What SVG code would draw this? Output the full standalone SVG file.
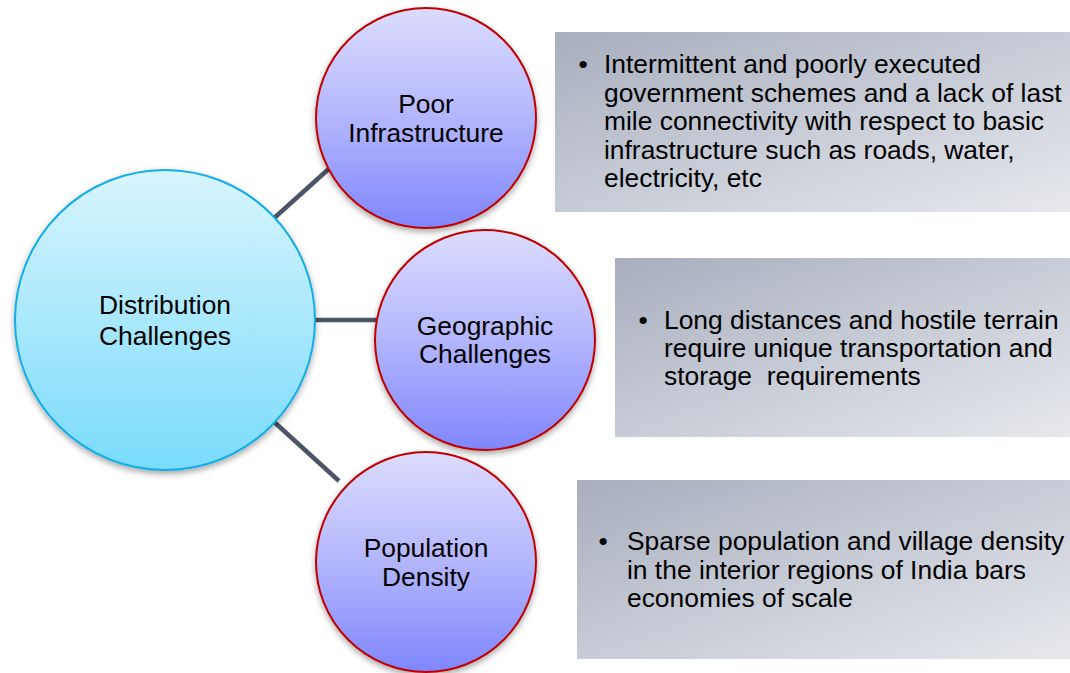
<svg xmlns="http://www.w3.org/2000/svg" width="1070" height="673" viewBox="0 0 1070 673">
<defs>
<linearGradient id="gBig" x1="0" y1="0" x2="0" y2="1">
<stop offset="0" stop-color="#d8f5fd"/>
<stop offset="1" stop-color="#7adbfb"/>
</linearGradient>
<linearGradient id="gSmall" x1="0" y1="0" x2="0" y2="1">
<stop offset="0" stop-color="#dcdcfd"/>
<stop offset="0.5" stop-color="#b3b6fc"/>
<stop offset="1" stop-color="#7f86fb"/>
</linearGradient>
<linearGradient id="gBox" x1="0" y1="0" x2="1" y2="1">
<stop offset="0" stop-color="#a8aebe"/>
<stop offset="1" stop-color="#e6e8ec"/>
</linearGradient>
<filter id="sh" x="-20%" y="-20%" width="140%" height="145%">
<feDropShadow dx="0" dy="3" stdDeviation="3" flood-color="#000" flood-opacity="0.35"/>
</filter>
</defs>
<style>
text{font-family:"Liberation Sans",Arial,sans-serif;font-size:26.4px;fill:#000}
.c{text-anchor:middle}
.big{fill:url(#gBig);stroke:#12ace6;stroke-width:2;filter:url(#sh)}
.small{fill:url(#gSmall);stroke:#c00000;stroke-width:2;filter:url(#sh)}
.box{fill:url(#gBox)}
.conn{stroke:#4c5565;stroke-width:4.5;fill:none}
</style>
<g id="connectors">
<line class="conn" x1="272" y1="220" x2="332" y2="166"/>
<line class="conn" x1="310" y1="320" x2="380" y2="320"/>
<line class="conn" x1="272" y1="420" x2="339" y2="481"/>
</g>
<g id="box1">
<rect class="box" x="555" y="32" width="515" height="180"/>
<text x="583" y="73" class="c">•</text>
<text x="604" y="73">Intermittent and poorly executed</text>
<text x="604" y="102">government schemes and a lack of last</text>
<text x="604" y="130">mile connectivity with respect to basic</text>
<text x="604" y="159">infrastructure such as roads, water,</text>
<text x="604" y="187">electricity, etc</text>
</g>
<g id="box2">
<rect class="box" x="615" y="258" width="455" height="179"/>
<text x="643" y="329" class="c">•</text>
<text x="664" y="329">Long distances and hostile terrain</text>
<text x="664" y="357">require unique transportation and</text>
<text x="664" y="385" xml:space="preserve">storage  requirements</text>
</g>
<g id="box3">
<rect class="box" x="577" y="480" width="493" height="179"/>
<text x="603" y="550" class="c">•</text>
<text x="627" y="550">Sparse population and village density</text>
<text x="627" y="579">in the interior regions of India bars</text>
<text x="627" y="607">economies of scale</text>
</g>
<g id="distribution">
<circle class="big" cx="165" cy="320" r="150"/>
<text x="165" y="314" class="c">Distribution</text>
<text x="165" y="345" class="c">Challenges</text>
</g>
<g id="poor-infrastructure">
<circle class="small" cx="426" cy="118" r="110"/>
<text x="426" y="113" class="c">Poor</text>
<text x="426" y="142" class="c">Infrastructure</text>
</g>
<g id="geographic-challenges">
<circle class="small" cx="485" cy="340" r="110"/>
<text x="485" y="335" class="c">Geographic</text>
<text x="485" y="363" class="c">Challenges</text>
</g>
<g id="population-density">
<circle class="small" cx="426" cy="562" r="110"/>
<text x="426" y="557" class="c">Population</text>
<text x="426" y="586" class="c">Density</text>
</g>
</svg>
